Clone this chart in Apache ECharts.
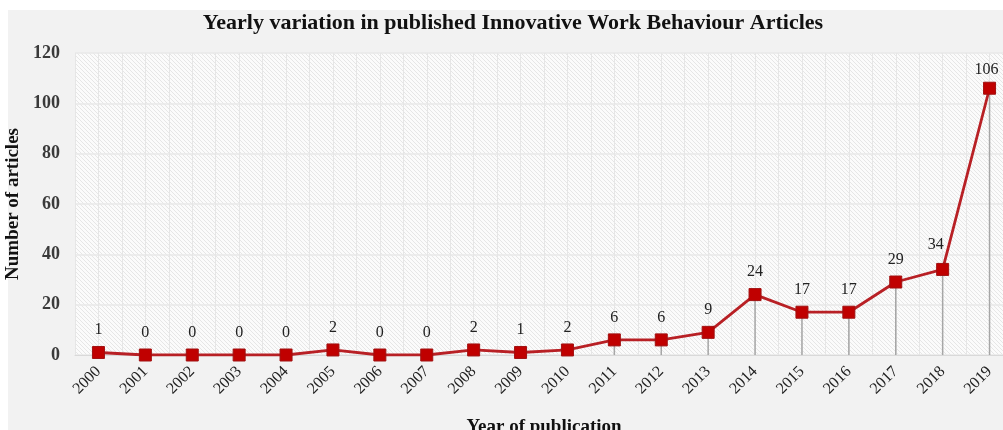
<!DOCTYPE html>
<html><head><meta charset="utf-8">
<script src="https://cdn.jsdelivr.net/npm/echarts@6/dist/echarts.min.js"></script>
<style>html,body{margin:0;padding:0;background:#fff}#wrap{position:absolute;left:8px;top:10px;width:995px;height:420px;background:#f2f2f2}#c{position:absolute;left:0;top:0;width:1003px;height:430px}</style>
</head><body><div id="wrap"></div><div id="c"></div>
<script>
const years = ['2000','2001','2002','2003','2004','2005','2006','2007','2008','2009','2010','2011','2012','2013','2014','2015','2016','2017','2018','2019'];
const articles = [1,0,0,0,0,2,0,0,2,1,2,6,6,9,24,17,17,29,34,106];
const yTicks = {min:0, max:120, interval:20};
const titleText = 'Yearly variation in published Innovative Work Behaviour Articles';
const xName = 'Year of publication';
const yName = 'Number of articles';

const pc = document.createElement('canvas');
pc.width = 4; pc.height = 4;
const g = pc.getContext('2d');
g.fillStyle = '#fbfbfb'; g.fillRect(0,0,4,4);
g.strokeStyle = '#e6e6e6'; g.lineWidth = 1;
g.beginPath(); g.moveTo(-1,-1); g.lineTo(5,5); g.moveTo(-1,3); g.lineTo(1,5); g.moveTo(3,-1); g.lineTo(5,1); g.stroke();

const serif = '"Liberation Serif", "DejaVu Serif", serif';
const chart = echarts.init(document.getElementById('c'), null, {renderer:'canvas'});
chart.setOption({
  backgroundColor: 'transparent',
  animation: false,
  title: {text: titleText, left: 508, textAlign: 'center', top: 7,
    textStyle: {fontFamily: serif, fontWeight: 'bold', fontSize: 22, color: '#111'}},
  grid: {left: 75, top: 53, width: 938, height: 302, show: true, borderWidth: 0,
    outerBoundsMode: 'none', containLabel: false,
    backgroundColor: {image: pc, repeat: 'repeat'}},
  xAxis: [{
    type: 'category', data: years, boundaryGap: true,
    name: xName, nameLocation: 'middle', nameGap: 63,
    nameTextStyle: {fontFamily: serif, fontWeight: 'bold', fontSize: 19, color: '#111'},
    axisLine: {lineStyle: {color: '#d9d9d9'}}, axisTick: {show: false},
    axisLabel: {rotate: 45, interval: 0, fontFamily: serif, fontSize: 16, color: '#222', margin: 14},
    splitLine: {show: false}
  }, {
    type: 'value', min: -0.5, max: 19.5, interval: 0.5, show: true, position: 'bottom',
    axisLine: {show: false}, axisTick: {show: false}, axisLabel: {show: false},
    splitLine: {show: true, lineStyle: {color: '#e6e6e6', width: 1}}
  }],
  yAxis: {type: 'value', min: yTicks.min, max: yTicks.max, interval: yTicks.interval,
    name: yName, nameLocation: 'middle', nameGap: 47, nameRotate: 90,
    nameTextStyle: {fontFamily: serif, fontWeight: 'bold', fontSize: 19, color: '#111'},
    axisLine: {show: false}, axisTick: {show: false},
    axisLabel: {fontFamily: serif, fontSize: 18, fontWeight: 'bold', color: '#3a3a3a', margin: 15},
    splitLine: {lineStyle: {color: '#e8e8e8', width: 1.5}}},
  series: [{
    type: 'bar', data: articles, barWidth: 1.5, xAxisIndex: 0,
    itemStyle: {color: '#a6a6a6'}, z: 2, silent: true
  }, {
    type: 'line', data: articles.map((v,i)=> i===18 ? {value:v, label:{offset:[-7,-2]}} : (i===19 ? {value:v, label:{offset:[-3,4]}} : v)), xAxisIndex: 0,
    symbol: 'rect', symbolSize: 12, z: 3,
    lineStyle: {color: '#b82025', width: 2.8},
    itemStyle: {color: '#c00000', borderColor: '#a01010', borderWidth: 1},
    label: {show: true, position: 'top', distance: 8, fontFamily: serif, fontSize: 16, color: '#222'}
  }]
});
</script></body></html>
